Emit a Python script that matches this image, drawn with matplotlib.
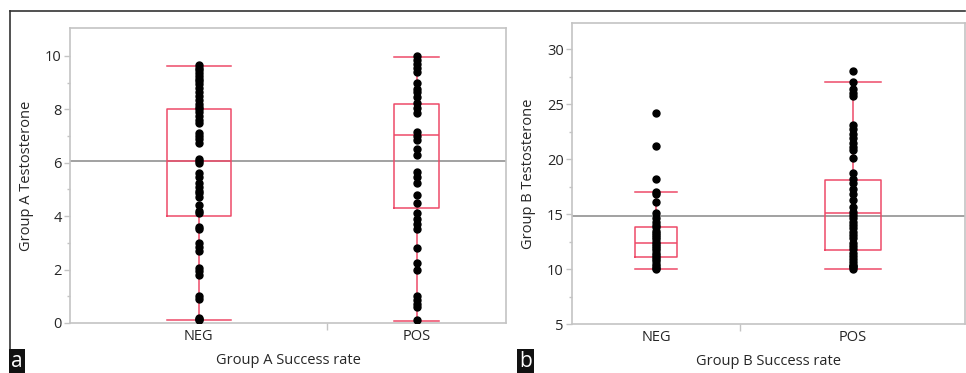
import matplotlib
matplotlib.use("Agg")
import matplotlib.pyplot as plt
from matplotlib.lines import Line2D
import numpy as np

plt.rcParams['font.family'] = ['Open Sans', 'DejaVu Sans']

categories = ["NEG", "POS"]

# Panel a: Group A testosterone
a_neg = [9.65, 9.55, 9.45, 9.35, 9.25, 9.15, 9.05, 8.95, 8.8, 8.65, 8.5, 8.35, 8.2,
         8.1, 8.0, 7.9, 7.75, 7.6, 7.5, 7.1, 7.0, 6.9, 6.75, 6.15, 6.05, 6.0, 5.6,
         5.45, 5.25, 5.1, 4.95, 4.85, 4.7, 4.4, 4.2, 4.1, 3.6, 3.5, 3.0, 2.85, 2.7,
         2.05, 1.95, 1.8, 1.0, 0.9, 0.2, 0.15, 0.1]
a_pos = [10.0, 9.85, 9.7, 9.55, 9.4, 8.97, 8.75, 8.65, 8.45, 8.25, 8.05, 7.85, 7.15,
         7.0, 6.85, 6.5, 6.3, 5.65, 5.45, 5.25, 4.8, 4.5, 4.1, 3.9, 3.7, 3.5, 2.8,
         2.25, 2.0, 1.0, 0.85, 0.7, 0.6, 0.1]
a_q1 = [4.0, 4.3]
a_med = [6.05, 7.03]
a_q3 = [8.0, 8.19]
a_whislo = [0.1, 0.08]
a_whishi = [9.6, 9.96]
a_mean = 6.05

# Panel b: Group B testosterone
b_neg = [24.2, 21.2, 18.2, 17.0, 16.8, 16.1, 15.1, 14.6, 14.3, 14.0, 13.8, 13.5, 13.3,
         13.1, 12.9, 12.7, 12.5, 12.3, 12.1, 11.9, 11.7, 11.5, 11.3, 11.1, 10.9, 10.7,
         10.5, 10.3, 10.1, 10.0]
b_pos = [28.0, 27.0, 26.4, 26.0, 25.7, 23.1, 22.7, 22.3, 21.9, 21.5, 21.1, 20.8, 20.1,
         18.7, 18.2, 17.8, 17.3, 16.8, 16.3, 15.6, 15.2, 14.9, 14.6, 14.3, 14.0, 13.7,
         13.4, 13.1, 12.8, 12.4, 12.1, 11.8, 11.5, 11.2, 10.9, 10.6, 10.4, 10.3, 10.2, 10.0]
b_q1 = [11.07, 11.73]
b_med = [12.34, 15.13]
b_q3 = [13.85, 18.1]
b_whislo = [10.0, 10.0]
b_whishi = [17.0, 27.0]
b_mean = 14.85

BOX = "#ee4a68"
GREY_SP = "#c4c4c4"
TXT = "#262626"

fig = plt.figure(figsize=(9.66, 3.73), dpi=100)


def panel(rect, groups, q1, med, q3, lo, hi, mean, ylim, yticks, yminor, ylabel, xlabel):
    ax = fig.add_axes(rect)
    n = np.array([len(g) for g in groups], dtype=float)
    frac = n / n.sum()
    edges = np.concatenate([[0], np.cumsum(frac)])
    centers = (edges[:-1] + edges[1:]) / 2
    widths = frac * 0.25
    stats = []
    for i in range(len(groups)):
        stats.append(dict(q1=q1[i], med=med[i], q3=q3[i], whislo=lo[i], whishi=hi[i], fliers=[]))
    ax.axhline(mean, color="#9a9a9a", lw=1.3, zorder=1)
    ax.bxp(stats, positions=centers, widths=widths, capwidths=widths, showfliers=False,
           boxprops=dict(color=BOX, lw=1.1), medianprops=dict(color=BOX, lw=1.1),
           whiskerprops=dict(color=BOX, lw=1.1), capprops=dict(color=BOX, lw=1.1),
           manage_ticks=False, zorder=2)
    for c, g in zip(centers, groups):
        ax.plot(np.full(len(g), c), g, 'o', color='black', ms=5.0, zorder=3)
    ax.set_xlim(0, 1)
    ax.set_ylim(*ylim)
    ax.set_yticks(yticks)
    ax.set_yticks(yminor, minor=True)
    ax.set_xticks(centers)
    ax.set_xticklabels(categories)
    ax.set_xticks(edges[1:-1], minor=True)
    for s in ax.spines.values():
        s.set_color(GREY_SP)
        s.set_linewidth(1.2)
    ax.tick_params(axis='y', which='major', length=4, width=1, color=GREY_SP,
                   labelsize=10.5, labelcolor=TXT, pad=2)
    ax.tick_params(axis='y', which='minor', length=2.5, width=1, color=GREY_SP)
    ax.tick_params(axis='x', which='major', length=0, labelsize=10.5, labelcolor=TXT, pad=4)
    ax.tick_params(axis='x', which='minor', length=5, width=1, color=GREY_SP)
    ax.set_ylabel(ylabel, fontsize=10.5, color=TXT, labelpad=8)
    ax.set_xlabel(xlabel, fontsize=10.5, color=TXT, labelpad=7)
    return ax


W, H = 966, 373


def rect(l, r, t, b):
    return [l / W, 1 - b / H, (r - l) / W, (b - t) / H]


panel(rect(70, 506, 28, 323), [a_neg, a_pos], a_q1, a_med, a_q3, a_whislo, a_whishi, a_mean,
      (0, 11.04), [0, 2, 4, 6, 8, 10], [1, 3, 5, 7, 9], "Group A Testosterone", "Group A Success rate")
panel(rect(572, 965, 22.7, 324), [b_neg, b_pos], b_q1, b_med, b_q3, b_whislo, b_whishi, b_mean,
      (5, 32.4), [5, 10, 15, 20, 25, 30], [7.5, 12.5, 17.5, 22.5, 27.5], "Group B Testosterone",
      "Group B Success rate")

# outer frame lines
fig.add_artist(Line2D([10 / W, 965 / W], [1 - 11 / H, 1 - 11 / H], color="#333333", lw=1.2))
fig.add_artist(Line2D([10 / W, 10 / W], [1 - 11 / H, 1 - 356 / H], color="#333333", lw=1.2))

# panel letters
for x, s in [(10, "a"), (518, "b")]:
    fig.text((x + 1) / W, 1 / H, s, color="white", fontsize=15, ha="left", va="bottom",
             bbox=dict(boxstyle="square,pad=0.12", fc="#111111", ec="none"))

fig.savefig("out.png", dpi=100)
